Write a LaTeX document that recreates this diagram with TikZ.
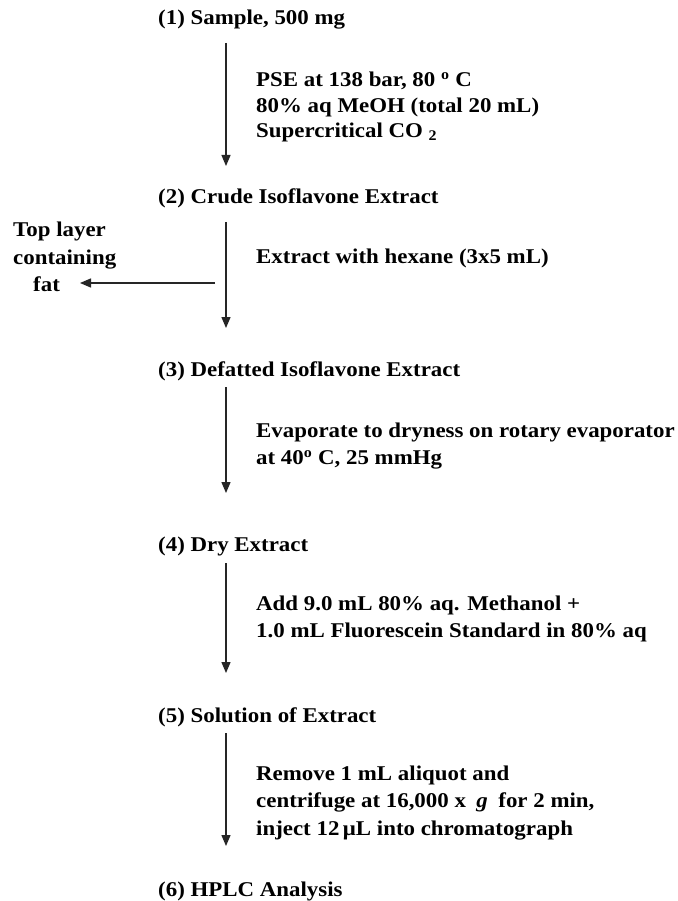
\documentclass[tikz,border=0pt]{standalone}
\usepackage{fontspec}
\setmainfont{Liberation Serif}[FakeStretch=1.09]
\usetikzlibrary{arrows.meta}
\begin{document}
\begin{tikzpicture}[x=1pt,y=-1pt,
  txt/.style={anchor=west,inner sep=0pt,font=\fontsize{21}{27.5}\selectfont\bfseries,align=left},
  arr/.style={draw=black!85,line width=1.3pt,-{Triangle[width=9pt,length=11pt]}}]
\useasboundingbox (0,0) rectangle (677,901);
% steps
\node[txt] (n1) at (158,20) {(1) Sample, 500 mg};
\node[txt] (n2) at (158,198) {(2) Crude Isoflavone Extract};
\node[txt] (n3) at (158,371) {(3) Defatted Isoflavone Extract};
\node[txt] (n4) at (158,546) {(4) Dry Extract};
\node[txt] (n5) at (158,717) {(5) Solution of Extract};
\node[txt] (n6) at (158,891) {(6) HPLC Analysis};
% conditions
\node[txt,font=\fontsize{21}{25.5}\selectfont\bfseries] (c1) at (256,107) {PSE at 138 bar, 80 \textsuperscript{o} C\\80\% aq MeOH (total 20 mL)\\Supercritical CO \textsubscript{2}};
\node[txt] (c2) at (256,258) {Extract with hexane (3x5 mL)};
\node[txt] (c3) at (256,446) {Evaporate to dryness on rotary evaporator\\at 40\textsuperscript{o} C, 25 mmHg};
\node[txt] (c4) at (256,619) {Add 9.0 mL 80\% aq. Methanol +\\1.0 mL Fluorescein Standard in 80\% aq};
\node[txt] (c5) at (256,803) {Remove 1 mL aliquot and\\centrifuge at 16,000 x\enspace\textit{g}\enspace for 2 min,\\inject 12\,μL into chromatograph};
\node[txt] (side) at (13,257) {Top layer\\containing\\\hspace*{20pt}fat};
% arrow ends
\coordinate (a1s) at (226,43);  \coordinate (a1e) at (226,166);
\coordinate (a2s) at (226,222); \coordinate (a2e) at (226,328);
\coordinate (a3s) at (226,387); \coordinate (a3e) at (226,493);
\coordinate (a4s) at (226,563); \coordinate (a4e) at (226,673);
\coordinate (a5s) at (226,733); \coordinate (a5e) at (226,846);
\coordinate (ls) at (215,283);  \coordinate (le) at (80,283);
\draw[arr] (a1s) -- (a1e);
\draw[arr] (a2s) -- (a2e);
\draw[arr] (a3s) -- (a3e);
\draw[arr] (a4s) -- (a4e);
\draw[arr] (a5s) -- (a5e);
\draw[arr] (ls) -- (le);
\end{tikzpicture}
\end{document}
